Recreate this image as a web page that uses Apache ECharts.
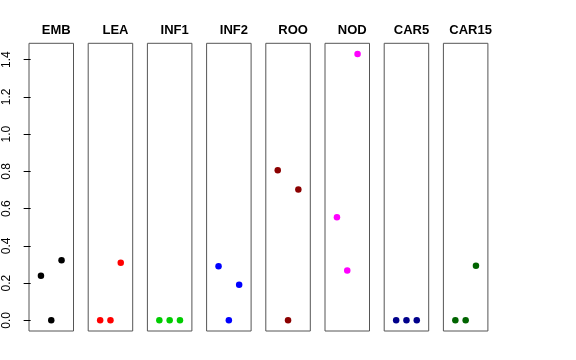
<!DOCTYPE html>
<html>
<head>
<meta charset="utf-8">
<script src="https://cdn.jsdelivr.net/npm/echarts@6/dist/echarts.min.js"></script>
<style>html,body{margin:0;padding:0;background:#fff}#c{width:576px;height:360px}</style>
</head>
<body>
<div id="c"></div>
<script>
const categories = ['EMB', 'LEA', 'INF1', 'INF2', 'ROO', 'NOD', 'CAR5', 'CAR15'];
const EMB   = [0.239, 0.0, 0.323];
const LEA   = [0.0, 0.0, 0.309];
const INF1  = [0.0, 0.0, 0.0];
const INF2  = [0.291, 0.0, 0.191];
const ROO   = [0.806, 0.0, 0.703];
const NOD   = [0.554, 0.268, 1.430];
const CAR5  = [0.0, 0.0, 0.0];
const CAR15 = [0.0, 0.0, 0.293];
const seriesValues = [EMB, LEA, INF1, INF2, ROO, NOD, CAR5, CAR15];
const colors = ['#000000', '#FF0000', '#00CD00', '#0000FF', '#8B0000', '#FF00FF', '#00008B', '#006400'];
const xPositions = [1, 2, 3];
const yTickValues = [0.0, 0.2, 0.4, 0.6, 0.8, 1.0, 1.2, 1.4];
const yTickLabels = ['0.0', '0.2', '0.4', '0.6', '0.8', '1.0', '1.2', '1.4'];

// axis ranges (R-style 4% extension)
const allVals = seriesValues.flat();
const dMax = Math.max(...allVals), dMin = Math.min(...allVals);
const ySpan = dMax - dMin;
const yMin = dMin - 0.04 * ySpan, yMax = dMax + 0.04 * ySpan;
const xMin = 0 - 0.04 * 4, xMax = 4 + 0.04 * 4;

// layout
const panelLeft0 = 29, panelStep = 59.2, panelWidth = 44.5, panelTop = 43.3, panelBottom = 331;

const grid = [], xAxis = [], yAxis = [], series = [], title = [];
categories.forEach((name, i) => {
  const left = panelLeft0 + i * panelStep;
  grid.push({
    left: left, top: panelTop, width: panelWidth, height: panelBottom - panelTop,
    show: true, borderColor: '#555555', borderWidth: 1, backgroundColor: 'transparent'
  });
  xAxis.push({
    type: 'value', gridIndex: i, min: xMin, max: xMax,
    show: false
  });
  const first = i === 0;
  yAxis.push({
    type: 'value', gridIndex: i, min: yMin, max: yMax,
    axisLine: {show: false},
    splitLine: {show: false},
    axisTick: first ? {show: true, length: 7, customValues: yTickValues, lineStyle: {color: '#000', width: 1}} : {show: false},
    axisLabel: first ? {
      show: true, customValues: yTickValues, rotate: 90, margin: 16,
      fontFamily: 'Liberation Sans, Arial, sans-serif', fontSize: 12, color: '#000',
      formatter: (v) => yTickLabels[yTickValues.findIndex(t => Math.abs(t - v) < 1e-9)] ?? ''
    } : {show: false}
  });
  series.push({
    type: 'scatter', xAxisIndex: i, yAxisIndex: i,
    symbol: 'circle', symbolSize: 6.5,
    itemStyle: {color: colors[i], opacity: 1},
    data: seriesValues[i].map((v, k) => [xPositions[k], v]),
    silent: true
  });
  title.push({
    text: name, left: left + panelWidth / 2, top: 19, textAlign: 'center',
    textStyle: {fontFamily: 'Liberation Sans, Arial, sans-serif', fontSize: 13, fontWeight: 'bold', color: '#000'}
  });
});

const chart = echarts.init(document.getElementById('c'), null, {renderer: 'canvas'});
chart.setOption({
  backgroundColor: '#ffffff',
  animation: false,
  title, grid, xAxis, yAxis, series
});
</script>
</body>
</html>
